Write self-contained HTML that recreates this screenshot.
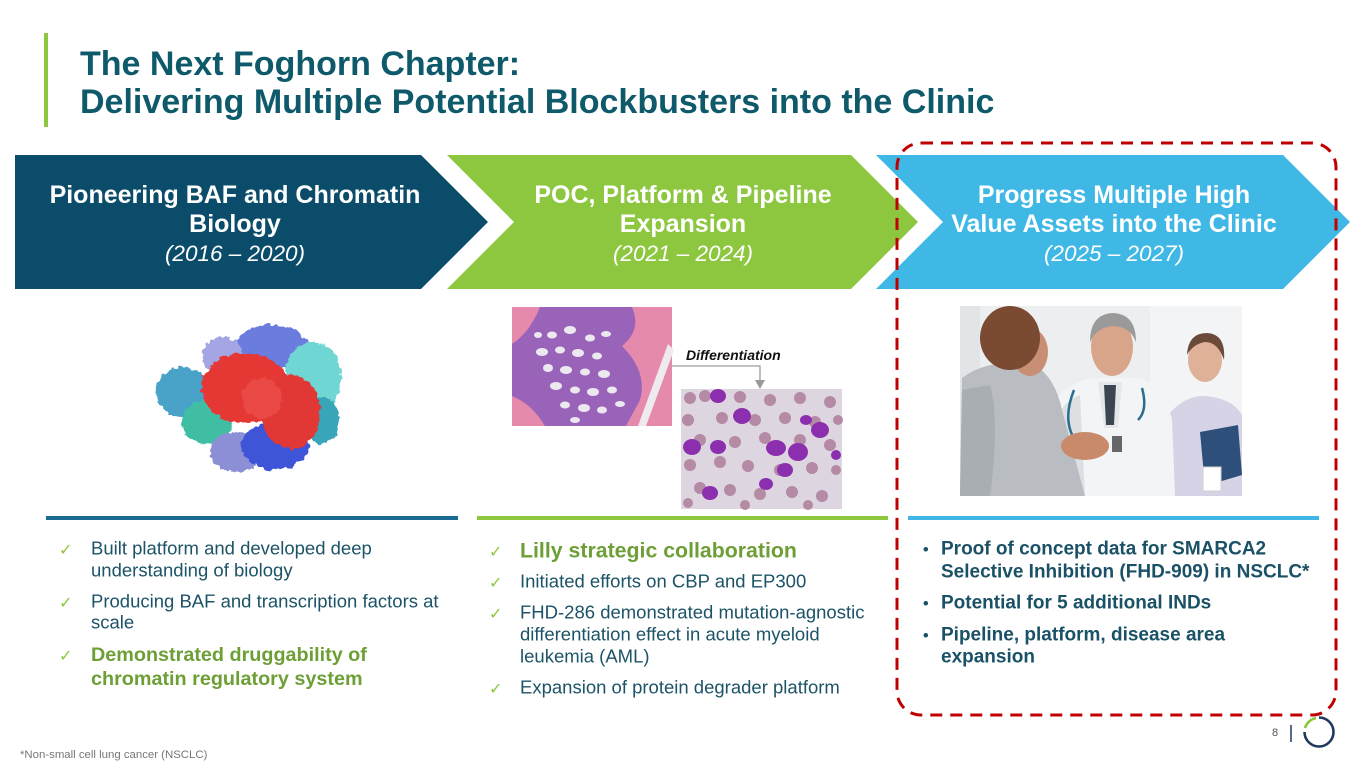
<!DOCTYPE html>
<html>
<head>
<meta charset="utf-8">
<style>
html,body{margin:0;padding:0;background:#fff;}
body{width:1365px;height:768px;overflow:hidden;}
svg{display:block;font-family:"Liberation Sans",Arial,sans-serif;}
</style>
</head>
<body>
<svg width="1365" height="768" viewBox="0 0 1365 768" xmlns="http://www.w3.org/2000/svg">
<rect x="0" y="0" width="1365" height="768" fill="#ffffff"/>

<!-- Title -->
<rect x="44" y="33" width="4" height="94" fill="#8dc63f"/>
<text x="80" y="75" font-size="34" font-weight="bold" fill="#0e5a6b">The Next Foghorn Chapter:</text>
<text x="80" y="113" font-size="34" font-weight="bold" fill="#0e5a6b">Delivering Multiple Potential Blockbusters into the Clinic</text>

<!-- Chevrons -->
<polygon points="15,155 421,155 488,222 421,289 15,289" fill="#0a4c69"/>
<polygon points="447,155 851,155 918,222 851,289 447,289 514,222" fill="#8dc63f"/>
<polygon points="876,155 1283,155 1350,222 1283,289 876,289 943,222" fill="#3fb8e5"/>

<g fill="#ffffff" text-anchor="middle">
  <text x="235" y="203" font-size="25" font-weight="bold">Pioneering BAF and Chromatin</text>
  <text x="235" y="232" font-size="25" font-weight="bold">Biology</text>
  <text x="235" y="261" font-size="22.5" font-style="italic">(2016 – 2020)</text>

  <text x="683" y="203" font-size="25" font-weight="bold">POC, Platform &amp; Pipeline</text>
  <text x="683" y="232" font-size="25" font-weight="bold">Expansion</text>
  <text x="683" y="261" font-size="22.5" font-style="italic">(2021 – 2024)</text>

  <text x="1114" y="203" font-size="25" font-weight="bold">Progress Multiple High</text>
  <text x="1114" y="232" font-size="25" font-weight="bold">Value Assets into the Clinic</text>
  <text x="1114" y="261" font-size="22.5" font-style="italic">(2025 – 2027)</text>
</g>

<!-- Protein image -->
<defs>
  <filter id="rough" x="-10%" y="-10%" width="120%" height="120%">
    <feTurbulence type="fractalNoise" baseFrequency="0.18" numOctaves="2" seed="3" result="n"/>
    <feDisplacementMap in="SourceGraphic" in2="n" scale="7" xChannelSelector="R" yChannelSelector="G"/>
  </filter>
</defs>
<g filter="url(#rough)">
  <ellipse cx="272" cy="347" rx="36" ry="22" fill="#6b7ddf"/>
  <ellipse cx="313" cy="378" rx="28" ry="36" fill="#6fd6d4"/>
  <ellipse cx="222" cy="356" rx="20" ry="20" fill="#a3a6e2"/>
  <ellipse cx="183" cy="392" rx="27" ry="25" fill="#4aa2c8"/>
  <ellipse cx="207" cy="422" rx="25" ry="22" fill="#3fbea4"/>
  <ellipse cx="322" cy="420" rx="17" ry="24" fill="#39a6b8"/>
  <ellipse cx="236" cy="452" rx="26" ry="20" fill="#8c8fd6"/>
  <ellipse cx="275" cy="446" rx="34" ry="24" fill="#3d54d6"/>
  <ellipse cx="245" cy="388" rx="44" ry="35" fill="#e53935"/>
  <ellipse cx="291" cy="412" rx="30" ry="37" fill="#e13834"/>
  <ellipse cx="262" cy="398" rx="20" ry="20" fill="#ea4a44"/>
</g>

<!-- Histology image 1 -->
<rect x="512" y="307" width="160" height="119" fill="#e58aac"/>
<path d="M540,307 L632,307 Q642,330 622,346 Q648,372 640,400 L626,426 L545,426 Q532,404 512,396 L512,344 Q530,332 540,307 Z" fill="#9a63ba"/>
<path d="M668,344 L674,350 L646,426 L638,426 Z" fill="#eeeaf0"/>
<g fill="#ece8f0">
  <ellipse cx="552" cy="335" rx="5" ry="3.5"/><ellipse cx="570" cy="330" rx="6" ry="4"/>
  <ellipse cx="590" cy="338" rx="5" ry="3.5"/><ellipse cx="606" cy="334" rx="5" ry="3"/>
  <ellipse cx="542" cy="352" rx="6" ry="4"/><ellipse cx="560" cy="350" rx="5" ry="3.5"/>
  <ellipse cx="578" cy="353" rx="6" ry="4"/><ellipse cx="597" cy="356" rx="5" ry="3.5"/>
  <ellipse cx="548" cy="368" rx="5" ry="4"/><ellipse cx="566" cy="370" rx="6" ry="4"/>
  <ellipse cx="585" cy="372" rx="5" ry="3.5"/><ellipse cx="604" cy="374" rx="6" ry="4"/>
  <ellipse cx="556" cy="386" rx="6" ry="4"/><ellipse cx="575" cy="390" rx="5" ry="3.5"/>
  <ellipse cx="593" cy="392" rx="6" ry="4"/><ellipse cx="612" cy="390" rx="5" ry="3.5"/>
  <ellipse cx="565" cy="405" rx="5" ry="3.5"/><ellipse cx="584" cy="408" rx="6" ry="4"/>
  <ellipse cx="602" cy="410" rx="5" ry="3.5"/><ellipse cx="620" cy="404" rx="5" ry="3"/>
  <ellipse cx="575" cy="420" rx="5" ry="3"/><ellipse cx="538" cy="335" rx="4" ry="3"/>
</g>

<!-- Differentiation label + arrow -->
<text x="686" y="360" font-size="14" font-weight="bold" font-style="italic" fill="#111">Differentiation</text>
<polyline points="672,366 760,366 760,381" fill="none" stroke="#9a9a9a" stroke-width="1.3"/>
<polygon points="755,380 765,380 760,389" fill="#9a9a9a"/>

<!-- Histology image 2 -->
<rect x="681" y="389" width="161" height="120" fill="#ddd6e0"/>
<g fill="#b48aa5">
  <circle cx="690" cy="398" r="6"/><circle cx="705" cy="396" r="6"/><circle cx="740" cy="397" r="6"/>
  <circle cx="770" cy="400" r="6"/><circle cx="800" cy="398" r="6"/><circle cx="830" cy="402" r="6"/>
  <circle cx="688" cy="420" r="6"/><circle cx="722" cy="418" r="6"/><circle cx="755" cy="420" r="6"/>
  <circle cx="785" cy="418" r="6"/><circle cx="815" cy="422" r="6"/><circle cx="838" cy="420" r="5"/>
  <circle cx="700" cy="440" r="6"/><circle cx="735" cy="442" r="6"/><circle cx="765" cy="438" r="6"/>
  <circle cx="800" cy="440" r="6"/><circle cx="830" cy="445" r="6"/>
  <circle cx="690" cy="465" r="6"/><circle cx="720" cy="462" r="6"/><circle cx="748" cy="466" r="6"/>
  <circle cx="780" cy="470" r="6"/><circle cx="812" cy="468" r="6"/><circle cx="836" cy="470" r="5"/>
  <circle cx="700" cy="488" r="6"/><circle cx="730" cy="490" r="6"/><circle cx="760" cy="494" r="6"/>
  <circle cx="792" cy="492" r="6"/><circle cx="822" cy="496" r="6"/><circle cx="688" cy="503" r="5"/>
  <circle cx="745" cy="505" r="5"/><circle cx="808" cy="505" r="5"/>
</g>
<g fill="#8b2fae">
  <ellipse cx="718" cy="396" rx="8" ry="7"/><ellipse cx="742" cy="416" rx="9" ry="8"/>
  <ellipse cx="692" cy="447" rx="9" ry="8"/><ellipse cx="718" cy="447" rx="8" ry="7"/>
  <ellipse cx="776" cy="448" rx="10" ry="8"/><ellipse cx="798" cy="452" rx="10" ry="9"/>
  <ellipse cx="820" cy="430" rx="9" ry="8"/><ellipse cx="785" cy="470" rx="8" ry="7"/>
  <ellipse cx="766" cy="484" rx="7" ry="6"/><ellipse cx="710" cy="493" rx="8" ry="7"/>
  <ellipse cx="806" cy="420" rx="6" ry="5"/><ellipse cx="836" cy="455" rx="5" ry="5"/>
</g>

<!-- Doctor photo -->
<rect x="960" y="306" width="282" height="190" fill="#eceeef"/>
<rect x="1150" y="306" width="92" height="190" fill="#f3f4f5"/>
<rect x="960" y="306" width="20" height="190" fill="#e2e5e7"/>
<!-- nurse -->
<path d="M1165,496 L1168,415 Q1185,395 1205,396 Q1232,398 1242,415 L1242,496 Z" fill="#d6d3e6"/>
<ellipse cx="1205" cy="360" rx="17" ry="22" fill="#e0b199"/>
<path d="M1187,355 Q1188,333 1207,333 Q1226,334 1224,360 Q1218,342 1205,342 Q1193,344 1187,355 Z" fill="#6b4a3a"/>
<polygon points="1200,432 1238,425 1242,475 1205,486" fill="#2d4f79"/>
<rect x="1203" y="467" width="18" height="24" fill="#ffffff" stroke="#d0d0d0"/>
<!-- doctor -->
<path d="M1045,496 L1050,405 Q1070,380 1095,378 L1140,378 Q1165,388 1172,420 L1175,496 Z" fill="#f3f4f5"/>
<path d="M1050,496 L1055,420 Q1065,400 1080,395 L1085,496 Z" fill="#dde0e3"/>
<polygon points="1098,382 1122,382 1118,428 1104,428" fill="#e4e7ea"/>
<polygon points="1104,385 1116,385 1114,425 1106,425" fill="#3d4650"/>
<path d="M1074,390 Q1062,420 1075,440 M1142,388 Q1148,410 1138,420" fill="none" stroke="#2b6e8f" stroke-width="2.5"/>
<ellipse cx="1112" cy="347" rx="21" ry="29" fill="#d8a58a"/>
<path d="M1090,342 Q1090,314 1113,313 Q1136,314 1136,342 Q1130,326 1112,326 Q1096,328 1090,342 Z" fill="#9a9a9a"/>
<!-- patient -->
<path d="M960,496 L962,378 Q985,360 1030,362 Q1055,375 1062,410 L1085,496 Z" fill="#b9bdc2"/>
<path d="M990,385 Q1000,420 990,496 L960,496 L962,390 Z" fill="#a9aeb3"/>
<ellipse cx="1030" cy="352" rx="18" ry="24" fill="#c98f75"/>
<ellipse cx="1010" cy="338" rx="30" ry="32" fill="#7a4a32"/>
<!-- handshake -->
<ellipse cx="1085" cy="446" rx="24" ry="14" fill="#c88a6b"/>
<rect x="1112" y="436" width="10" height="16" fill="#666"/>

<!-- Rules -->
<rect x="46" y="516" width="412" height="4" fill="#1a6a92"/>
<rect x="477" y="516" width="411" height="4" fill="#8dc63f"/>
<rect x="908" y="516" width="411" height="4" fill="#41b6e6"/>

<!-- Checkmarks -->
<g font-family="'DejaVu Sans',sans-serif" font-size="16" fill="#8dc63f">
  <text x="59" y="555">✓</text>
  <text x="59" y="608">✓</text>
  <text x="59" y="661">✓</text>
  <text x="489" y="557">✓</text>
  <text x="489" y="588">✓</text>
  <text x="489" y="619">✓</text>
  <text x="489" y="694">✓</text>
</g>

<!-- Column 1 -->
<g font-size="18.5" fill="#1c5367">
  <text x="91" y="554.5">Built platform and developed deep</text>
  <text x="91" y="576.5">understanding of biology</text>
  <text x="91" y="607.5">Producing BAF and transcription factors at</text>
  <text x="91" y="628.5">scale</text>
</g>
<g font-size="19.8" font-weight="bold" fill="#6d9f36">
  <text x="91" y="661">Demonstrated druggability of</text>
  <text x="91" y="685">chromatin regulatory system</text>
</g>

<!-- Column 2 -->
<text x="520" y="557.5" font-size="21.3" font-weight="bold" fill="#6d9f36">Lilly strategic collaboration</text>
<g font-size="18.5" fill="#1c5367">
  <text x="520" y="587.5">Initiated efforts on CBP and EP300</text>
  <text x="520" y="618.5">FHD-286 demonstrated mutation-agnostic</text>
  <text x="520" y="640.5">differentiation effect in acute myeloid</text>
  <text x="520" y="662.5">leukemia (AML)</text>
  <text x="520" y="693.5">Expansion of protein degrader platform</text>
</g>

<!-- Column 3 -->
<g font-size="19" font-weight="bold" fill="#1a5166">
  <text x="923" y="554.5" font-size="16">•</text>
  <text x="923" y="608.5" font-size="16">•</text>
  <text x="923" y="640.5" font-size="16">•</text>
  <text x="941" y="554.5">Proof of concept data for SMARCA2</text>
  <text x="941" y="577.5">Selective Inhibition (FHD-909) in NSCLC*</text>
  <text x="941" y="608.5">Potential for 5 additional INDs</text>
  <text x="941" y="640.5">Pipeline, platform, disease area</text>
  <text x="941" y="662.5">expansion</text>
</g>

<!-- Dashed highlight box -->
<rect x="897" y="143" width="439" height="572" rx="24" ry="24" fill="none" stroke="#c00000" stroke-width="3" stroke-dasharray="12 8"/>

<!-- Footer -->
<text x="20" y="758" font-size="11.4" fill="#777777">*Non-small cell lung cancer (NSCLC)</text>
<text x="1275" y="736" font-size="11" fill="#555" text-anchor="middle">8</text>
<line x1="1291" y1="725" x2="1291" y2="742" stroke="#1f3a5f" stroke-width="1.5"/>
<path d="M1319,717.5 A14.5,14.5 0 1,1 1304.5,732" fill="none" stroke="#1f3a5f" stroke-width="2.6"/>
<path d="M1305,728 A14.5,14.5 0 0,1 1316,718" fill="none" stroke="#8dc63f" stroke-width="2.6"/>
</svg>
</body>
</html>
